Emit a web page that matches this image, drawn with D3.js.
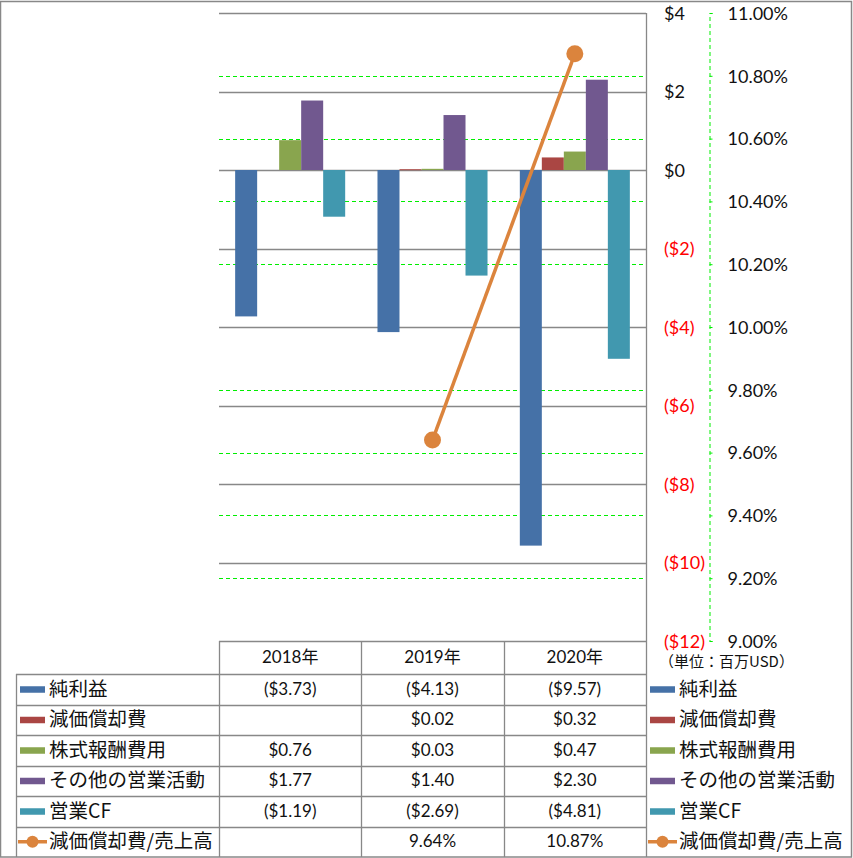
<!DOCTYPE html>
<html><head><meta charset="utf-8">
<script src="https://cdn.jsdelivr.net/npm/d3@7"></script>
<style>
body{margin:0;background:#fff;}
svg{display:block;}
.num{font-family:Lato,"Noto Sans CJK JP",sans-serif;font-size:17px;fill:#111;}
.axn{font-family:Lato,sans-serif;font-size:18px;fill:#111;}
.jp{font-family:"Noto Sans CJK JP",sans-serif;font-size:19.5px;fill:#111;}
</style></head>
<body>
<script>
const years = ["2018年","2019年","2020年"];
const seriesNames = ["純利益","減価償却費","株式報酬費用","その他の営業活動","営業CF"];
const netIncome   = [-3.73, -4.13, -9.57];
const depreciation= [null, 0.02, 0.32];
const stockComp   = [0.76, 0.03, 0.47];
const otherOps    = [1.77, 1.40, 2.30];
const operatingCF = [-1.19, -2.69, -4.81];
const lineName = "減価償却費/売上高";
const deprRatio = [null, 0.0964, 0.1087];
const leftTicks = [4,2,0,-2,-4,-6,-8,-10,-12];
const rightTicks = [0.11,0.108,0.106,0.104,0.102,0.10,0.098,0.096,0.094,0.092,0.09];
const colors = ["#4571A7","#AA4643","#89A54E","#71588F","#4198AF"];
const lineColor = "#DB843D";
const unitLabel = "（単位：百万USD）";

const seriesValues = [netIncome, depreciation, stockComp, otherOps, operatingCF];

const W=853,H=858;
const svg=d3.select("body").append("svg").attr("width",W).attr("height",H);
const L=219,R=646,T=13,B=641;
const gray="#888";

const x0=d3.scaleBand().domain(years).range([L,R]).padding(0);
const x1=d3.scaleBand().domain(seriesNames).range([0,x0.bandwidth()]).paddingInner(0).paddingOuter(0.734);
const y=d3.scaleLinear().domain([-12,4]).range([B,T]);
const y2=d3.scaleLinear().domain([0.09,0.11]).range([B,T]);

// outer border
svg.append("rect").attr("x",0.5).attr("y",1.5).attr("width",W-2).attr("height",H-2.5)
  .attr("fill","none").attr("stroke",gray).attr("stroke-width",1.5);

// secondary gridlines (green dashed)
svg.append("g").selectAll("line").data(rightTicks.filter(t=>t<0.1099 && t>0.0901)).join("line")
  .attr("x1",L).attr("x2",R).attr("y1",d=>Math.round(y2(d))+0.5).attr("y2",d=>Math.round(y2(d))+0.5)
  .attr("stroke","#00EE00").attr("stroke-width",1.2).attr("stroke-dasharray","4,3");

// primary gridlines
svg.append("g").selectAll("line").data(leftTicks).join("line")
  .attr("x1",L).attr("x2",R).attr("y1",d=>Math.round(y(d))+0.5).attr("y2",d=>Math.round(y(d))+0.5)
  .attr("stroke",gray).attr("stroke-width",1.3);

// bars
seriesNames.forEach((s,i)=>{
  svg.append("g").selectAll("rect").data(years.map((yr,j)=>({yr,v:seriesValues[i][j]})).filter(d=>d.v!=null))
    .join("rect")
    .attr("x",d=>x0(d.yr)+x1(s))
    .attr("width",x1.bandwidth())
    .attr("y",d=>y(Math.max(0,d.v)))
    .attr("height",d=>Math.max(1,Math.abs(y(d.v)-y(0))))
    .attr("fill",colors[i]);
});

// line
const lineData=years.map((yr,j)=>({yr,v:deprRatio[j]})).filter(d=>d.v!=null);
svg.append("path").datum(lineData)
  .attr("d",d3.line().x(d=>x0(d.yr)+x0.bandwidth()/2).y(d=>y2(d.v)))
  .attr("fill","none").attr("stroke",lineColor).attr("stroke-width",3.5);
svg.append("g").selectAll("circle").data(lineData).join("circle")
  .attr("cx",d=>x0(d.yr)+x0.bandwidth()/2).attr("cy",d=>y2(d.v)).attr("r",8.5).attr("fill",lineColor);

// right plot border
svg.append("line").attr("x1",R+0.5).attr("x2",R+0.5).attr("y1",T).attr("y2",H-1).attr("stroke",gray).attr("stroke-width",1.3);

// primary axis labels
const ax1=svg.append("g").attr("transform",`translate(${R},0)`)
  .call(d3.axisRight(y).tickValues(leftTicks).tickSize(0).tickPadding(18)
    .tickFormat(v=>v<0?`($${-v})`:`$${v}`));
ax1.select(".domain").remove();
ax1.selectAll("text").attr("class","axn").attr("text-anchor","start")
  .style("fill",d=>d<0?"#FF0000":"#111").attr("dy","0.35em");

// secondary axis
const ax2=svg.append("g").attr("transform",`translate(709.5,0)`)
  .call(d3.axisRight(y2).tickValues(rightTicks).tickSize(3).tickSizeOuter(3).tickPadding(15).tickFormat(d3.format(".2%")));
ax2.select(".domain").attr("stroke","#00EE00").attr("stroke-dasharray","4,3");
ax2.selectAll(".tick line").attr("stroke","#00EE00");
ax2.selectAll("text").attr("class","axn").attr("text-anchor","start").attr("dy","0.35em");

// unit label
svg.append("text").attr("x",659).attr("y",663).attr("dominant-baseline","middle")
  .style("font-family","'Noto Sans CJK JP',sans-serif").style("font-size","15px").style("fill","#111").text(unitLabel);

// table
const hdrTop=641,hdrBot=674,rowH=30.5;
const allNames=[...seriesNames,lineName];
const rowY=i=>hdrBot+i*rowH;
const tbl=svg.append("g");
tbl.selectAll("line.h").data(d3.range(allNames.length)).join("line").attr("class","h")
  .attr("x1",16).attr("x2",R).attr("y1",i=>Math.round(rowY(i))+0.5).attr("y2",i=>Math.round(rowY(i))+0.5)
  .attr("stroke",gray).attr("stroke-width",1.3);
const vx=[L,...years.slice(1).map(yr=>x0(yr))];
tbl.selectAll("line.v").data(vx).join("line").attr("class","v")
  .attr("x1",d=>Math.round(d)+0.5).attr("x2",d=>Math.round(d)+0.5).attr("y1",hdrTop).attr("y2",H-1)
  .attr("stroke",gray).attr("stroke-width",1.3);
tbl.append("line").attr("x1",16.5).attr("x2",16.5).attr("y1",hdrBot).attr("y2",H-1).attr("stroke",gray).attr("stroke-width",1.3);
tbl.selectAll("text.hd").data(years).join("text").attr("class","num")
  .attr("x",d=>x0(d)+x0.bandwidth()/2).attr("y",(hdrTop+hdrBot)/2+1).attr("text-anchor","middle").attr("dominant-baseline","middle").text(d=>d);
const fmtMoney=v=>v==null?"":(v<0?`($${(-v).toFixed(2)})`:`$${v.toFixed(2)}`);
const fmtPct=d3.format(".2%");
const rowVals=[...seriesValues.map(a=>a.map(fmtMoney)),deprRatio.map(v=>v==null?"":fmtPct(v))];
rowVals.forEach((vals,i)=>{
  tbl.append("g").selectAll("text").data(vals.map((t,j)=>({t,yr:years[j]}))).join("text").attr("class","num")
    .attr("x",d=>x0(d.yr)+x0.bandwidth()/2).attr("y",rowY(i)+rowH/2+1).attr("text-anchor","middle").attr("dominant-baseline","middle").text(d=>d.t);
});
function legendItem(g,x,i){
  const cy=rowY(i)+rowH/2;
  if(i<seriesNames.length){
    g.append("rect").attr("x",x).attr("y",cy-3).attr("width",25).attr("height",6.5).attr("fill",colors[i]);
  } else {
    g.append("line").attr("x1",x-2).attr("x2",x+27).attr("y1",cy).attr("y2",cy).attr("stroke",lineColor).attr("stroke-width",3.5);
    g.append("circle").attr("cx",x+12.5).attr("cy",cy).attr("r",6).attr("fill",lineColor);
  }
  g.append("text").attr("class","jp").attr("x",x+29).attr("y",cy+1).attr("dominant-baseline","middle").text(allNames[i]);
}
allNames.forEach((n,i)=>{legendItem(tbl,20,i);legendItem(svg,650,i);});
</script>
</body></html>
